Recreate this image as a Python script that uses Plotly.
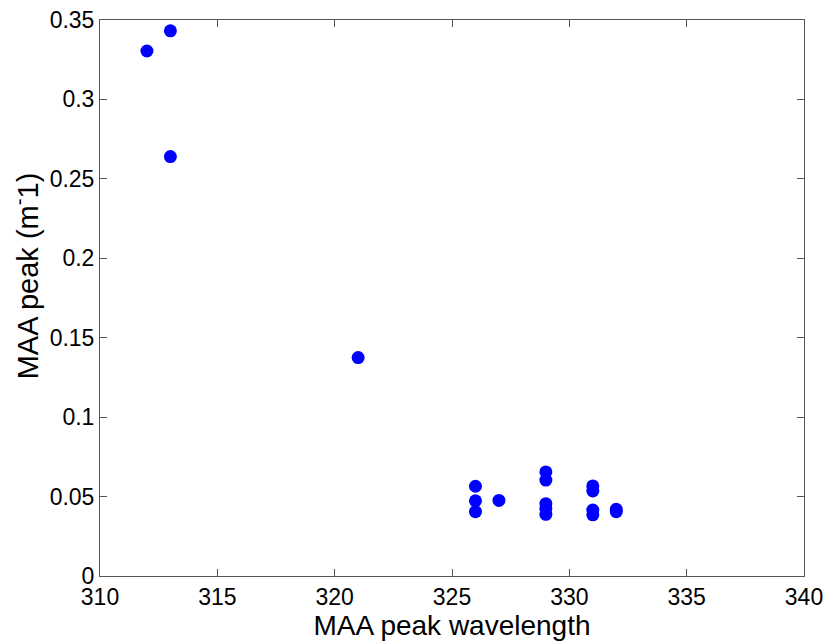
import plotly.graph_objects as go

wavelength = [312, 313, 313, 321,
              326, 326, 326, 327,
              329, 329, 329, 329, 329,
              331, 331, 331, 331,
              332, 332]
maa_peak = [0.3305, 0.3432, 0.2640, 0.1375,
            0.0565, 0.0473, 0.0405, 0.0476,
            0.0655, 0.0604, 0.0455, 0.0425, 0.0388,
            0.0567, 0.0535, 0.0415, 0.0385,
            0.0420, 0.0405]

x_ticks = [310, 315, 320, 325, 330, 335, 340]
y_ticks = [0, 0.05, 0.1, 0.15, 0.2, 0.25, 0.3, 0.35]
y_ticktext = ["0", "0.05", "0.1", "0.15", "0.2", "0.25", "0.3", "0.35"]

FONT = "Liberation Sans, Arial, sans-serif"

fig = go.Figure()
fig.add_trace(go.Scatter(
    x=wavelength, y=maa_peak, mode="markers",
    marker=dict(color="#0000FF", size=13, line=dict(width=0)),
    showlegend=False,
))

axis_common = dict(
    showgrid=False, zeroline=False, showline=True, mirror="ticks",
    linecolor="#555555", linewidth=1, ticks="inside", ticklen=7,
    tickcolor="#555555", tickwidth=1, automargin=False,
    tickfont=dict(family=FONT, size=23, color="black"),
)

fig.update_layout(
    width=827, height=642,
    margin=dict(l=100, r=23, t=20, b=66),
    paper_bgcolor="white", plot_bgcolor="white",
    font=dict(family=FONT, color="black"),
    xaxis=dict(range=[310, 340], tickvals=x_ticks,
               title=dict(text="MAA peak wavelength", font=dict(size=28), standoff=0),
               **axis_common),
    yaxis=dict(range=[0, 0.35], tickvals=y_ticks, ticktext=y_ticktext,
               **axis_common),
    annotations=[dict(
        text="MAA peak (m<sup>-</sup>1)", xref="paper", yref="paper",
        x=0, y=0.539, xanchor="center", yanchor="middle", xshift=-74,
        textangle=-90, showarrow=False, font=dict(family=FONT, size=29, color="black"),
    )],
)

fig.write_html("out.html")
